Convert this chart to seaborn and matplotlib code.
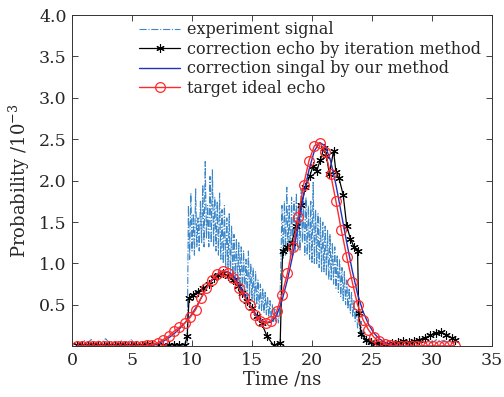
import numpy as np
import pandas as pd
import matplotlib
matplotlib.use("Agg")
import matplotlib.pyplot as plt
import seaborn as sns

# --- datos (tiempo en ns, probabilidad en 1e-3) ---

# experiment signal: base ruidosa + tramo denso 9.6-25.0 ns cada 0.1 ns
exp_base1_t = np.round(np.arange(0.4, 9.5, 0.3), 2)
exp_base1_y = [0.05, 0.03, 0.07, 0.04, 0.08, 0.03, 0.06, 0.05, 0.09, 0.04,
               0.06, 0.03, 0.07, 0.05, 0.04, 0.08, 0.03, 0.06, 0.04, 0.05,
               0.03, 0.04, 0.02, 0.03, 0.02, 0.03, 0.02, 0.02, 0.01, 0.02,
               0.01]
exp_main_t = np.round(np.arange(9.6, 25.05, 0.1), 2)
exp_main_y = [
    0.05, 1.70, 1.05, 1.85, 1.15, 1.60, 1.10, 1.90, 1.20, 1.55,
    1.15, 1.75, 1.25, 1.95, 1.20, 2.23, 1.30, 1.70, 1.20, 2.05,
    1.25, 2.13, 1.20, 1.80, 1.15, 1.75, 1.10, 1.85, 1.05, 1.65,
    1.00, 1.70, 0.95, 1.55, 0.95, 1.60, 0.85, 1.45, 0.85, 1.35,
    0.80, 1.30, 0.75, 1.25, 0.70, 1.20, 0.65, 1.15, 0.65, 1.05,
    0.60, 1.15, 0.60, 1.00, 0.55, 0.95, 0.50, 0.90, 0.50, 0.80,
    0.45, 0.75, 0.42, 0.70, 0.40, 0.65, 0.38, 0.60, 0.35, 0.55,
    0.32, 0.50, 0.30, 0.45, 0.30, 0.42, 0.28, 0.40, 0.95, 1.70,
    1.05, 1.75, 1.10, 1.92, 1.15, 1.70, 1.05, 1.80, 1.10, 1.75,
    1.15, 1.85, 1.20, 1.70, 1.15, 1.90, 1.25, 1.75, 1.10, 1.80,
    1.10, 1.70, 1.05, 1.75, 1.00, 1.98, 1.00, 1.65, 1.00, 1.60,
    0.95, 1.55, 0.90, 1.50, 0.90, 1.45, 0.85, 1.40, 0.80, 1.35,
    0.80, 1.25, 0.75, 1.20, 0.70, 1.10, 0.65, 1.05, 0.60, 0.95,
    0.55, 0.90, 0.50, 0.80, 0.45, 0.70, 0.40, 0.65, 0.35, 0.55,
    0.30, 0.45, 0.22, 0.38, 0.15, 0.30, 0.10, 0.20, 0.06, 0.12,
    0.04, 0.08, 0.02, 0.05, 0.02]
exp_base2_t = np.round(np.arange(25.3, 32.0, 0.3), 2)
exp_base2_y = [0.02, 0.01, 0.03, 0.02, 0.01, 0.02, 0.03, 0.02, 0.04, 0.02,
               0.03, 0.05, 0.03, 0.06, 0.04, 0.07, 0.05, 0.08, 0.06, 0.07,
               0.05, 0.06, 0.04]

# correction echo by iteration method
iter_t = [0.4, 0.85, 1.3, 1.75, 2.2, 2.65, 3.1, 3.55, 4.0, 4.45, 4.9, 5.35,
          5.8, 6.25, 6.7, 7.15, 7.6, 8.05, 8.5, 8.95, 9.4, 9.6, 9.75, 10.05,
          10.5, 10.95, 11.4, 11.8, 12.2, 12.6, 13.0, 13.4, 13.8, 14.2, 14.6,
          15.0, 15.4, 15.8, 16.25, 16.8, 17.35, 17.55, 17.95, 18.3, 18.7,
          19.1, 19.45, 19.8, 20.1, 20.4, 20.7, 21.0, 21.2, 21.45, 21.8, 22.0,
          22.25, 22.6, 22.9, 23.2, 23.5, 23.8, 23.9, 24.1, 24.5, 24.9, 25.35,
          25.8, 26.25, 26.7, 27.15, 27.6, 28.05, 28.5, 28.95, 29.4, 29.85,
          30.3, 30.75, 31.2, 31.65, 31.9]
iter_y = [0.02, 0.02, 0.02, 0.02, 0.02, 0.02, 0.02, 0.02, 0.02, 0.02, 0.02,
          0.02, 0.02, 0.02, 0.02, 0.02, 0.02, 0.01, 0.02, 0.01, 0.02, 0.12,
          0.58, 0.62, 0.66, 0.70, 0.75, 0.82, 0.86, 0.88, 0.85, 0.80, 0.73,
          0.64, 0.55, 0.46, 0.36, 0.28, 0.12, 0.01, 0.04, 1.15, 1.20, 1.25,
          1.45, 1.70, 1.92, 2.05, 2.18, 2.12, 2.25, 2.40, 2.30, 2.08, 2.36,
          2.10, 2.03, 1.83, 1.45, 1.30, 1.20, 1.15, 0.40, 0.15, 0.08, 0.05,
          0.04, 0.03, 0.03, 0.04, 0.05, 0.06, 0.05, 0.06, 0.08, 0.10, 0.13,
          0.16, 0.17, 0.14, 0.10, 0.08]

# rejilla comun de 0.45 ns para las curvas suaves
grid_t = np.round(np.arange(0.4, 31.95, 0.45), 2)

# correction singal by our method
ours_y = [0, 0, 0, 0, 0, 0, 0, 0, 0, 0, 0, 0, 0, 0,
          0.01, 0.03, 0.06, 0.10, 0.15, 0.21, 0.28, 0.36, 0.46, 0.58, 0.70,
          0.80, 0.87, 0.91, 0.90, 0.85, 0.75, 0.63, 0.50, 0.40, 0.32, 0.28,
          0.29, 0.37, 0.55, 0.80, 1.10, 1.45, 1.82, 2.13, 2.36, 2.46, 2.42,
          2.24, 1.95, 1.60, 1.25, 0.92, 0.63, 0.42, 0.27, 0.16, 0.09, 0.05,
          0.02, 0.01, 0, 0, 0, 0, 0, 0, 0, 0, 0, 0, 0]

# target ideal echo
target_y = [0, 0, 0, 0, 0, 0, 0, 0, 0, 0, 0, 0, 0, 0.01,
            0.02, 0.04, 0.08, 0.12, 0.18, 0.23, 0.28, 0.35, 0.44, 0.58, 0.70,
            0.80, 0.87, 0.91, 0.89, 0.82, 0.70, 0.60, 0.50, 0.38, 0.30, 0.28,
            0.31, 0.42, 0.62, 0.88, 1.20, 1.56, 1.95, 2.24, 2.42, 2.46, 2.35,
            2.08, 1.75, 1.40, 1.08, 0.78, 0.50, 0.32, 0.20, 0.11, 0.06, 0.03,
            0.01, 0, 0, 0, 0, 0, 0, 0, 0, 0, 0, 0, 0]

exp_t = np.concatenate([exp_base1_t, exp_main_t, exp_base2_t])
exp_y = np.concatenate([exp_base1_y, exp_main_y, exp_base2_y])

# --- estilo ---
sns.set_style("ticks")
plt.rcParams['font.family'] = ['DejaVu Serif']
plt.rcParams['mathtext.fontset'] = 'dejavuserif'

fig = plt.figure(figsize=(5.04, 3.97), dpi=100)
ax = fig.add_axes([0.143, 0.128, 0.833, 0.834])

sns.lineplot(x=exp_t, y=exp_y, ax=ax, color='#3a86c8', lw=0.8,
             linestyle='-.', label='experiment signal', sort=False)
sns.lineplot(x=iter_t, y=iter_y, ax=ax, color='black', lw=0.9,
             marker=(6, 2, 0), markersize=6, markeredgewidth=0.8,
             markeredgecolor='black', label='correction echo by iteration method',
             sort=False)
sns.lineplot(x=grid_t, y=ours_y, ax=ax, color='#2233bb', lw=1.0,
             label='correction singal by our method', sort=False)
sns.lineplot(x=grid_t, y=target_y, ax=ax, color='#ff2a2a', lw=1.0,
             marker='o', markersize=7, markerfacecolor='none',
             markeredgecolor='#ff2a2a', markeredgewidth=0.9,
             label='target ideal echo', sort=False)

ax.set_xlim(0, 35)
ax.set_ylim(0, 4.0)
ax.set_xticks(range(0, 36, 5))
ax.set_yticks([0.5, 1.0, 1.5, 2.0, 2.5, 3.0, 3.5, 4.0])
ax.set_yticklabels(['0.5', '1.0', '1.5', '2.0', '2.5', '3.0', '3.5', '4.0'])
ax.tick_params(direction='in', top=True, right=True, labelsize=12.5,
               length=4, width=0.6, pad=4)
for s in ax.spines.values():
    s.set_linewidth(0.7)
    s.set_color('#333333')

ax.set_xlabel('Time /ns', fontsize=13, labelpad=1)
ax.set_ylabel(r'Probability /10$^{-3}$', fontsize=13, labelpad=5)

ax.legend(loc='upper left', bbox_to_anchor=(0.14, 1.005), frameon=False,
          fontsize=11.5, handlelength=2.6, handletextpad=0.4,
          labelspacing=0.15, borderaxespad=0.1)

fig.savefig('out.png', dpi=100)
